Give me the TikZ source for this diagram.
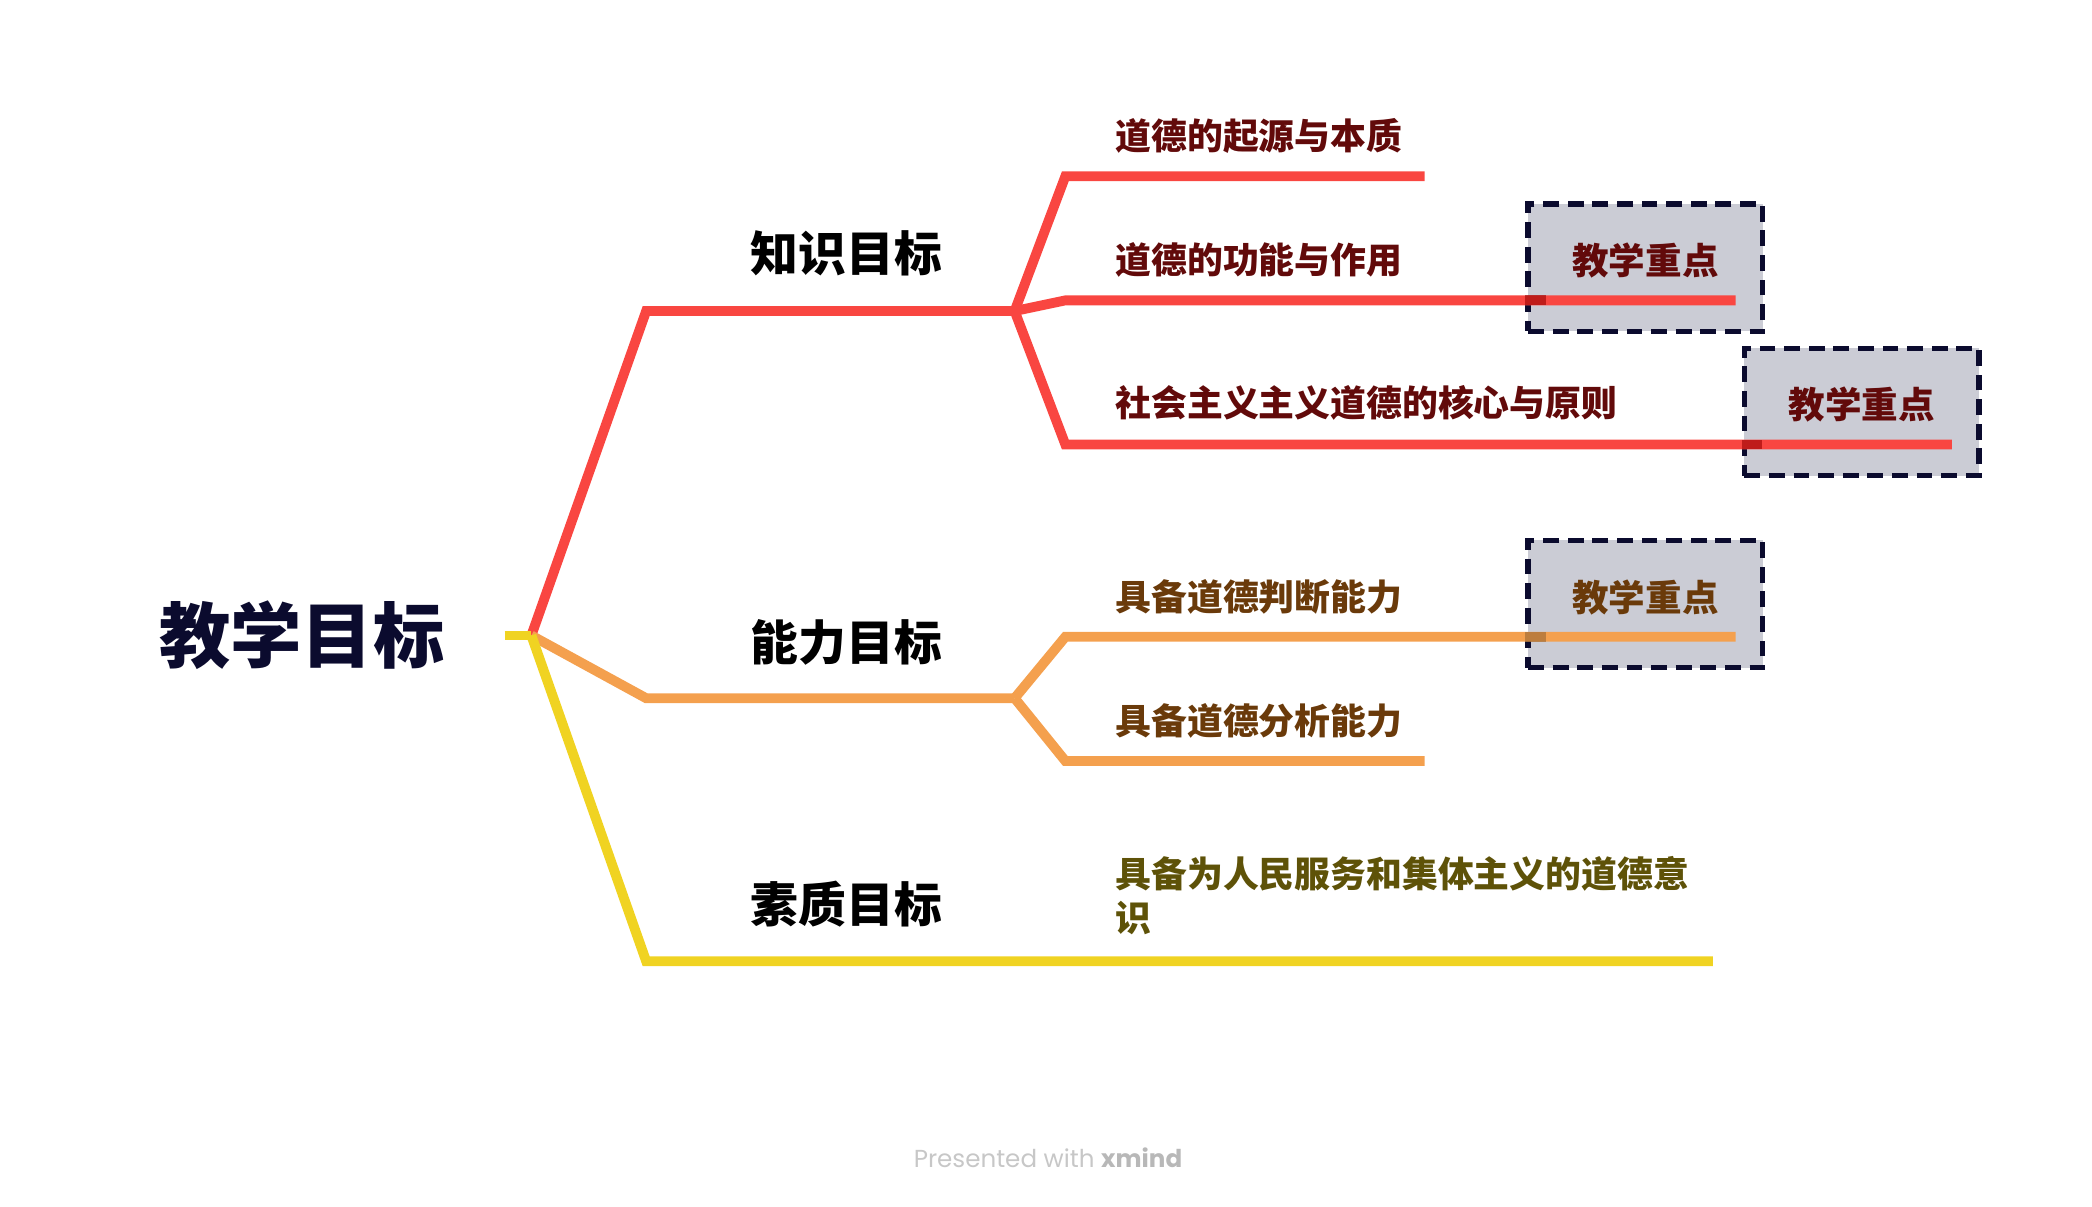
\documentclass[tikz,border=0pt]{standalone}
\usepackage{fontspec}
\newfontfamily\cjk{Noto Sans CJK SC}
\newfontfamily\footfont{Poppins}
\definecolor{nhanhdo}{HTML}{F94641}
\definecolor{nhanhcam}{HTML}{F4A04E}
\definecolor{nhanhvang}{HTML}{F0D322}
\definecolor{chudo}{HTML}{620A0A}
\definecolor{chucam}{HTML}{6A3A0A}
\definecolor{chuvang}{HTML}{5E5208}
\definecolor{nenhop}{HTML}{CBCCD5}
\definecolor{vienhop}{HTML}{0B0B2E}

\begin{document}
\begin{tikzpicture}[
  x=0.01335cm, y=-0.01335cm,
  nhanh/.style={line width=2.8pt, line join=miter},
  goc/.style={font=\cjk\bfseries\fontsize{20.3}{24}\selectfont, text=vienhop, inner sep=0},
  cap1/.style={font=\cjk\bfseries\fontsize{13.6}{17}\selectfont, inner sep=0},
  cap2/.style={font=\cjk\bfseries\fontsize{10.2}{12.4}\selectfont, inner sep=0, anchor=west, align=left},
  hop/.style={draw=vienhop, fill=nenhop, line width=1.5pt, dash pattern=on 4.5pt off 2.5pt,
    minimum width=2.347cm, minimum height=1.274cm, inner sep=0, text depth=5pt,
    font=\cjk\bfseries\fontsize{10.4}{12}\selectfont}
]
  \useasboundingbox (0,0) rectangle (1567,903.4);

  % các điểm nối
  \coordinate (dau) at (378,476);
  \coordinate (hub) at (398,476);
  \coordinate (r1) at (484,233);  \coordinate (r2) at (760,233);
  \coordinate (a1) at (798,132);  \coordinate (a2) at (1067,132);
  \coordinate (b1) at (798,225);  \coordinate (b2) at (1300,225);
  \coordinate (c1) at (798,333);  \coordinate (c2) at (1462,333);
  \coordinate (o1) at (484,523);  \coordinate (o2) at (760,523);
  \coordinate (d1) at (798,477);  \coordinate (d2) at (1300,477);
  \coordinate (e1) at (798,570);  \coordinate (e2) at (1067,570);
  \coordinate (y1) at (484,720);  \coordinate (y2) at (1283,720);

  % các chữ
  \node[goc] (muctieu) at (226,476) {教学目标};
  \node[cap1] (kienthuc) at (634,190) {知识目标};
  \node[cap1] (nangluc) at (634,481) {能力目标};
  \node[cap1] (tochat) at (634,677) {素质目标};
  \node[cap2, text=chudo] (ngon) at (835,102) {道德的起源与本质};
  \node[cap2, text=chudo] (chucnang) at (835,195) {道德的功能与作用};
  \node[cap2, text=chudo] (nguyentac) at (835,302) {社会主义主义道德的核心与原则};
  \node[cap2, text=chucam] (phandoan) at (835,447) {具备道德判断能力};
  \node[cap2, text=chucam] (phantich) at (835,540) {具备道德分析能力};
  \node[cap2, text=chuvang] (ythuc) at (835,671) {具备为人民服务和集体主义的道德意\\识};

  % các hộp
  \node[hop, text=chudo] (hop1) at (1232.5,200.5) {教学重点};
  \node[hop, text=chudo] (hop2) at (1394.5,308.5) {教学重点};
  \node[hop, text=chucam] (hop3) at (1232.5,452.5) {教学重点};

  % các nhánh
  \draw[nhanh, nhanhdo] (hub) -- (r1) -- (r2);
  \draw[nhanh, nhanhdo] (r2) -- (a1) -- (a2);
  \draw[nhanh, nhanhdo] (r2) -- (b1) -- (b2);
  \draw[nhanh, nhanhdo] (r2) -- (c1) -- (c2);
  \draw[nhanh, nhanhcam] (hub) -- (o1) -- (o2);
  \draw[nhanh, nhanhcam] (o2) -- (d1) -- (d2);
  \draw[nhanh, nhanhcam] (o2) -- (e1) -- (e2);
  \draw[nhanh, nhanhvang] (hub) -- (y1) -- (y2);
  \draw[nhanh, nhanhvang] (dau) -- (hub);
  \draw[nhanh, red!60!black, opacity=.6] (b2 -| hop1.west) -- ++(15,0);
  \draw[nhanh, red!60!black, opacity=.6] (c2 -| hop2.west) -- ++(15,0);
  \draw[nhanh, brown!80!black, opacity=.6] (d2 -| hop3.west) -- ++(15,0);

  \node[font=\footfont\fontsize{7}{9}\selectfont, text=black!22, inner sep=0] (chantrang) at (785,867)
    {Presented with \textbf{\textcolor{black!28}{xmind}}};
\end{tikzpicture}
\end{document}
